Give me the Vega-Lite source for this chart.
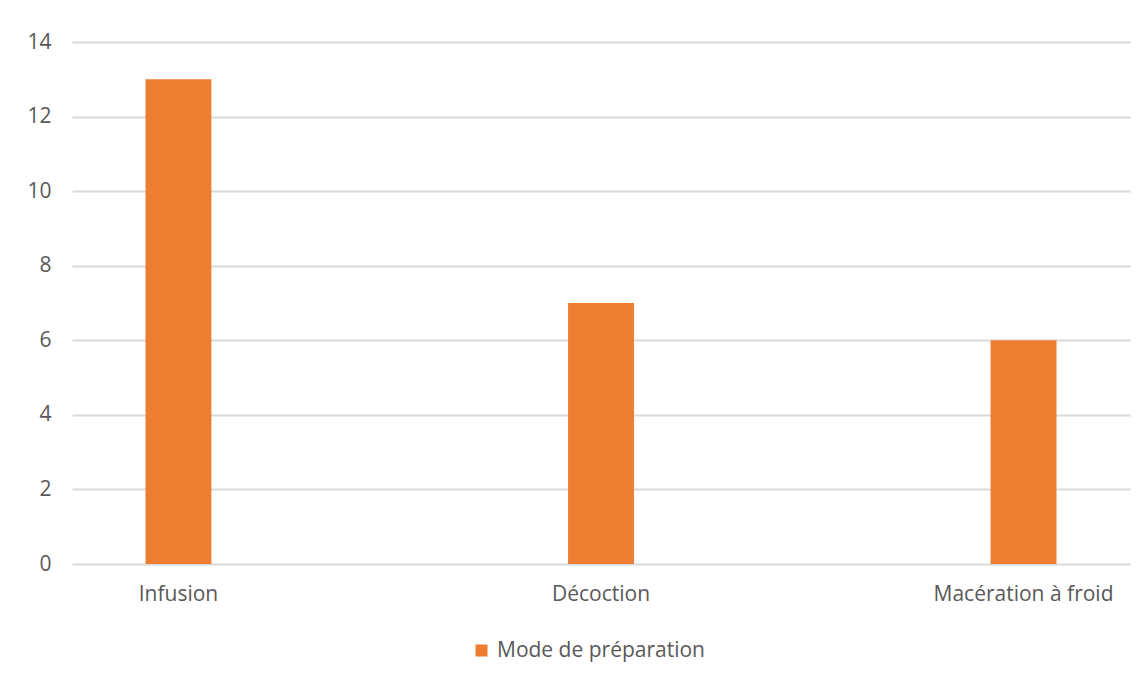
{
  "$schema": "https://vega.github.io/schema/vega-lite/v6.json",
  "autosize": {"type": "none"},
  "padding": {"left": 72, "top": 42, "right": 16, "bottom": 118},
  "width": 1058,
  "height": 522,
  "background": "#ffffff",
  "config": {
    "view": {"stroke": null},
    "font": "Open Sans",
    "axis": {
      "labelFont": "Open Sans",
      "labelFontSize": 21,
      "labelColor": "#595959",
      "gridColor": "#d9d9d9",
      "gridWidth": 2,
      "domain": false,
      "ticks": false,
      "title": null
    }
  },
  "data": {
    "values": [
      {"mode": "Infusion", "serie": "Mode de préparation", "valeur": 13},
      {"mode": "Décoction", "serie": "Mode de préparation", "valeur": 7},
      {"mode": "Macération à froid", "serie": "Mode de préparation", "valeur": 6}
    ]
  },
  "mark": {"type": "bar"},
  "encoding": {
    "x": {
      "field": "mode",
      "type": "nominal",
      "sort": null,
      "scale": {"paddingInner": 0.844, "paddingOuter": 0.174},
      "axis": {"labelAngle": 0, "grid": false, "labelPadding": 19, "labelBaseline": "top", "labelLimit": 0}
    },
    "y": {
      "field": "valeur",
      "type": "quantitative",
      "scale": {"domain": [0, 14], "nice": false},
      "axis": {"values": [0, 2, 4, 6, 8, 10, 12, 14], "labelPadding": 21, "grid": true}
    },
    "color": {
      "field": "serie",
      "type": "nominal",
      "scale": {"range": ["#ed7d31"]},
      "legend": {
        "title": null,
        "orient": "none",
        "legendX": 399,
        "legendY": 598,
        "symbolType": "square",
        "symbolSize": 144,
        "symbolStrokeWidth": 0,
        "labelFont": "Open Sans",
        "labelFontSize": 21,
        "labelColor": "#595959",
        "labelOffset": 5,
        "labelLimit": 0
      }
    }
  }
}
